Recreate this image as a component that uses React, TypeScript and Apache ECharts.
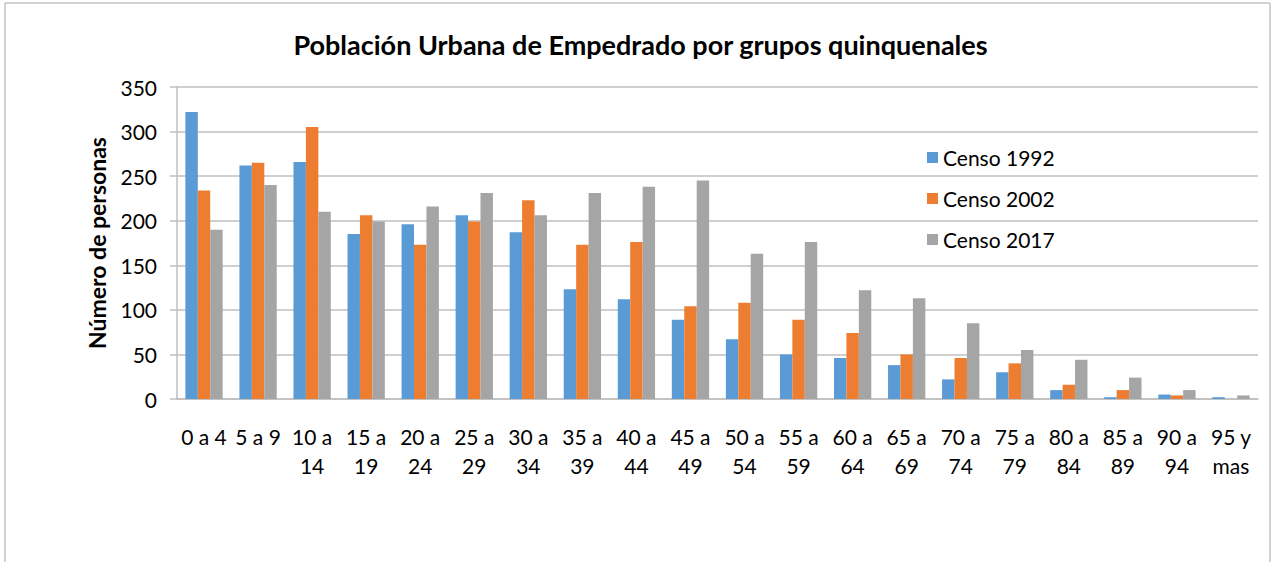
import React, { useEffect, useRef } from "react";
import * as echarts from "echarts";

const categories = [
  "0 a 4", "5 a 9", "10 a\n14", "15 a\n19", "20 a\n24", "25 a\n29", "30 a\n34",
  "35 a\n39", "40 a\n44", "45 a\n49", "50 a\n54", "55 a\n59", "60 a\n64", "65 a\n69",
  "70 a\n74", "75 a\n79", "80 a\n84", "85 a\n89", "90 a\n94", "95 y\nmas",
];
const censo1992 = [322, 262, 266, 185, 196, 206, 187, 123, 112, 89, 67, 50, 46, 38, 22, 30, 10, 2, 5, 2];
const censo2002 = [234, 265, 305, 206, 173, 199, 223, 173, 176, 104, 108, 89, 74, 50, 46, 40, 16, 10, 4, 0];
const censo2017 = [190, 240, 210, 199, 216, 231, 206, 231, 238, 245, 163, 176, 122, 113, 85, 55, 44, 24, 10, 4];

const FONT = "Lato, 'Open Sans', sans-serif";

export default function App() {
  const ref = useRef<HTMLDivElement>(null);
  useEffect(() => {
    if (!ref.current) return;
    const chart = echarts.init(ref.current, undefined, { renderer: "svg" });
    const mk = (name: string, data: number[], color: string) => ({
      name,
      type: "bar",
      data,
      barGap: "0%",
      barCategoryGap: "31%",
      itemStyle: { color },
    });
    chart.setOption({
      animation: false,
      backgroundColor: "#ffffff",
      textStyle: { fontFamily: FONT },
      title: {
        text: "Población Urbana de Empedrado por grupos quinquenales",
        left: "center",
        top: 26,
        textStyle: { fontFamily: FONT, fontSize: 27, fontWeight: "bold", color: "#000" },
      },
      legend: {
        orient: "vertical",
        left: 922,
        top: 142,
        itemWidth: 11,
        itemHeight: 11,
        itemGap: 20,
        icon: "rect",
        textStyle: { fontFamily: FONT, fontSize: 21, color: "#000" },
      },
      grid: { left: 177, right: 23, top: 87, bottom: 163 },
      xAxis: {
        type: "category",
        data: categories,
        axisTick: { show: false },
        axisLine: { lineStyle: { color: "#bfbfbf", width: 1.5 } },
        axisLabel: {
          fontFamily: FONT,
          fontSize: 21,
          color: "#000",
          lineHeight: 29,
          margin: 23,
          interval: 0,
          verticalAlign: "top",
        },
      },
      yAxis: {
        type: "value",
        min: 0,
        max: 350,
        interval: 50,
        name: "Número de personas",
        nameLocation: "middle",
        nameGap: 69,
        nameTextStyle: { fontFamily: FONT, fontSize: 23, fontWeight: "bold", color: "#000" },
        axisLine: { show: true, lineStyle: { color: "#bfbfbf", width: 1.5 } },
        axisTick: { show: true, length: 7, lineStyle: { color: "#bfbfbf", width: 1.5 } },
        splitLine: { lineStyle: { color: "#bfbfbf", width: 1.5 } },
        axisLabel: { fontFamily: FONT, fontSize: 21, color: "#000", margin: 20 },
      },
      graphic: [
        {
          type: "rect",
          shape: { x: 5, y: 3, width: 1265, height: 620 },
          style: { fill: "none", stroke: "#a6a6a6", lineWidth: 1 },
          silent: true,
        },
      ],
      series: [
        mk("Censo 1992", censo1992, "#5B9BD5"),
        mk("Censo 2002", censo2002, "#ED7D31"),
        mk("Censo 2017", censo2017, "#A5A5A5"),
      ],
    });
    return () => chart.dispose();
  }, []);
  return (
    <div
      ref={ref}
      style={{ position: "absolute", left: 0, top: 0, width: 1281, height: 562 }}
    />
  );
}
